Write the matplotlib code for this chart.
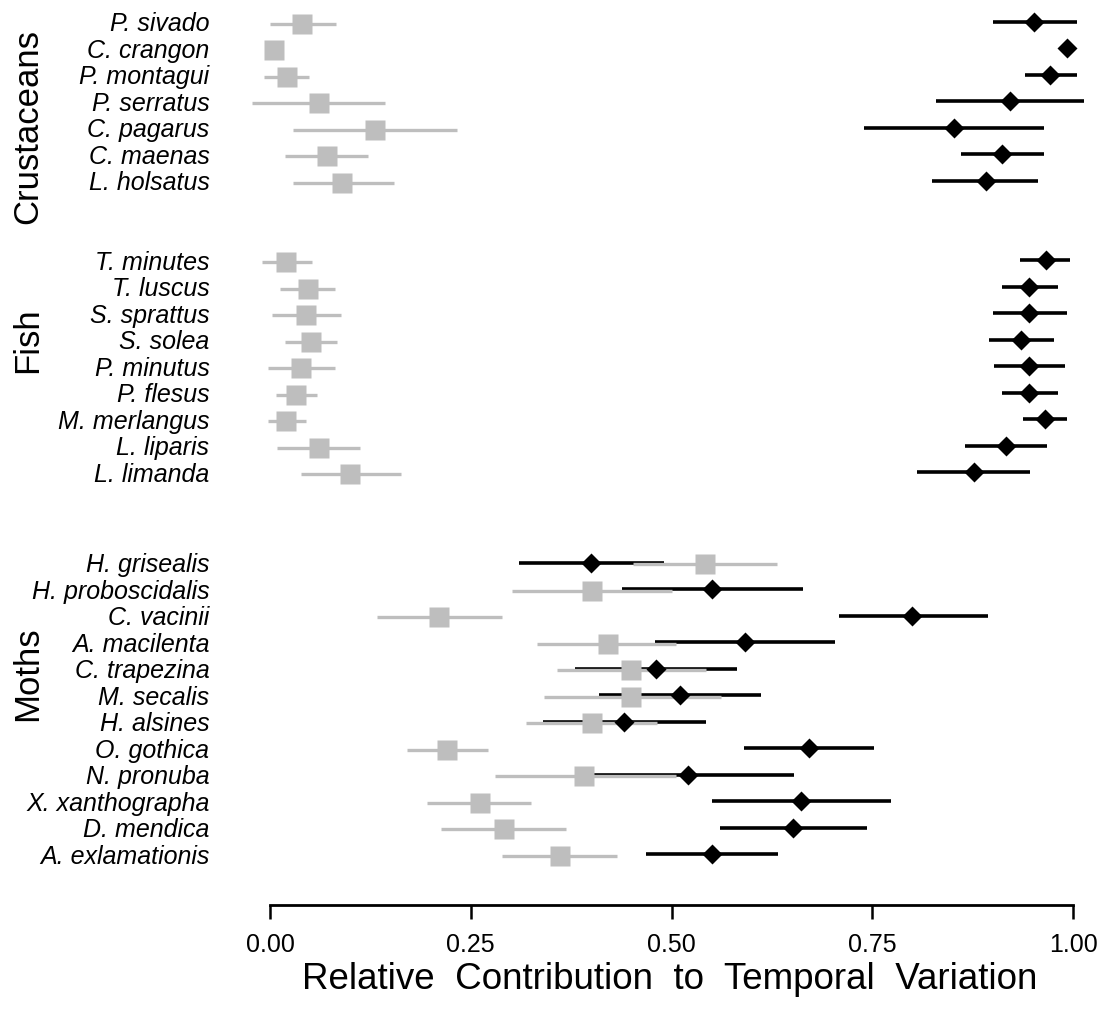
import numpy as np
import matplotlib
matplotlib.use("Agg")
import matplotlib.pyplot as plt
import matplotlib.transforms as mtransforms

plt.rcParams['font.family'] = ['Liberation Sans', 'DejaVu Sans']

# groups and species (top to bottom)
groups = ["Crustaceans", "Fish", "Moths"]
crust_names = ["P. sivado", "C. crangon", "P. montagui", "P. serratus",
               "C. pagarus", "C. maenas", "L. holsatus"]
fish_names = ["T. minutes", "T. luscus", "S. sprattus", "S. solea", "P. minutus",
              "P. flesus", "M. merlangus", "L. liparis", "L. limanda"]
moth_names = ["H. grisealis", "H. proboscidalis", "C. vacinii", "A. macilenta",
              "C. trapezina", "M. secalis", "H. alsines", "O. gothica", "N. pronuba",
              "X. xanthographa", "D. mendica", "A. exlamationis"]

# grey squares: estimate and interval
grey_est = [0.040, 0.005, 0.021, 0.061, 0.131, 0.071, 0.090,
            0.020, 0.047, 0.045, 0.051, 0.039, 0.033, 0.020, 0.061, 0.100,
            0.542, 0.401, 0.210, 0.421, 0.450, 0.450, 0.401, 0.221, 0.391, 0.261, 0.291, 0.361]
grey_lo = [0.000, 0.000, -0.007, -0.022, 0.029, 0.019, 0.029,
           -0.010, 0.012, 0.002, 0.019, -0.003, 0.008, -0.003, 0.009, 0.039,
           0.452, 0.301, 0.133, 0.333, 0.358, 0.341, 0.319, 0.170, 0.280, 0.196, 0.213, 0.289]
grey_hi = [0.082, 0.010, 0.049, 0.143, 0.233, 0.122, 0.154,
           0.052, 0.081, 0.088, 0.083, 0.081, 0.058, 0.045, 0.112, 0.163,
           0.631, 0.500, 0.289, 0.506, 0.543, 0.562, 0.482, 0.272, 0.506, 0.325, 0.369, 0.432]

# black diamonds: estimate and interval
black_est = [0.951, 0.992, 0.971, 0.921, 0.852, 0.912, 0.892,
             0.966, 0.945, 0.945, 0.935, 0.945, 0.945, 0.965, 0.916, 0.877,
             0.400, 0.551, 0.800, 0.591, 0.481, 0.511, 0.441, 0.671, 0.521, 0.661, 0.651, 0.551]
black_lo = [0.900, 0.985, 0.940, 0.830, 0.740, 0.860, 0.825,
            0.934, 0.911, 0.900, 0.895, 0.902, 0.911, 0.938, 0.865, 0.806,
            0.310, 0.438, 0.709, 0.480, 0.380, 0.410, 0.340, 0.590, 0.390, 0.550, 0.560, 0.468]
black_hi = [1.005, 0.998, 1.005, 1.014, 0.964, 0.964, 0.957,
            0.996, 0.981, 0.993, 0.976, 0.990, 0.981, 0.993, 0.968, 0.946,
            0.491, 0.664, 0.894, 0.704, 0.582, 0.612, 0.543, 0.752, 0.653, 0.773, 0.743, 0.633]

xticks = [0.0, 0.25, 0.5, 0.75, 1.0]
xtick_labels = ["0.00", "0.25", "0.50", "0.75", "1.00"]

# row positions: groups separated by empty space
names = crust_names + fish_names + moth_names
y = np.concatenate([np.arange(len(crust_names)),
                    9 + np.arange(len(fish_names)),
                    20.4 + np.arange(len(moth_names))])
group_y = [3.96, 12.0, 24.6]

grey = '#bebebe'

fig = plt.figure(figsize=(11.07, 10.19), dpi=100)
ax = fig.add_axes([240/1107, 1 - 905/1019, 860/1107, 905/1019])

yg = y + 0.07
ax.hlines(y, black_lo, black_hi, color='black', lw=2.6, zorder=2)
ax.hlines(yg, grey_lo, grey_hi, color=grey, lw=2.4, zorder=3)
ax.plot(grey_est, yg, 's', color=grey, ms=14.5, mec='none', zorder=4)
ax.plot(black_est, y, 'D', color='black', ms=10.5, mec='none', zorder=5)

ax.set_xlim(-30/803, 830/803)
ax.set_ylim(905/26.5 - 22/26.5, -22/26.5)

ax.set_yticks(y)
ax.set_yticklabels(names, fontstyle='italic', fontsize=18)
ax.tick_params(axis='y', length=0, pad=22)

ax.set_xticks(xticks)
ax.set_xticklabels(xtick_labels, fontsize=18)
ax.tick_params(axis='x', length=10, width=1.8, pad=10)

for s in ['top', 'right', 'left']:
    ax.spines[s].set_visible(False)
ax.spines['bottom'].set_bounds(0, 1)
ax.spines['bottom'].set_linewidth(2)

ax.set_xlabel("Relative  Contribution  to  Temporal  Variation", fontsize=26.5, labelpad=4)

trans = mtransforms.blended_transform_factory(fig.transFigure, ax.transData)
for g, gy in zip(groups, group_y):
    ax.text(28/1107, gy, g, transform=trans, rotation=90, fontsize=25,
            ha='center', va='center')

fig.savefig('out.png', dpi=100)
